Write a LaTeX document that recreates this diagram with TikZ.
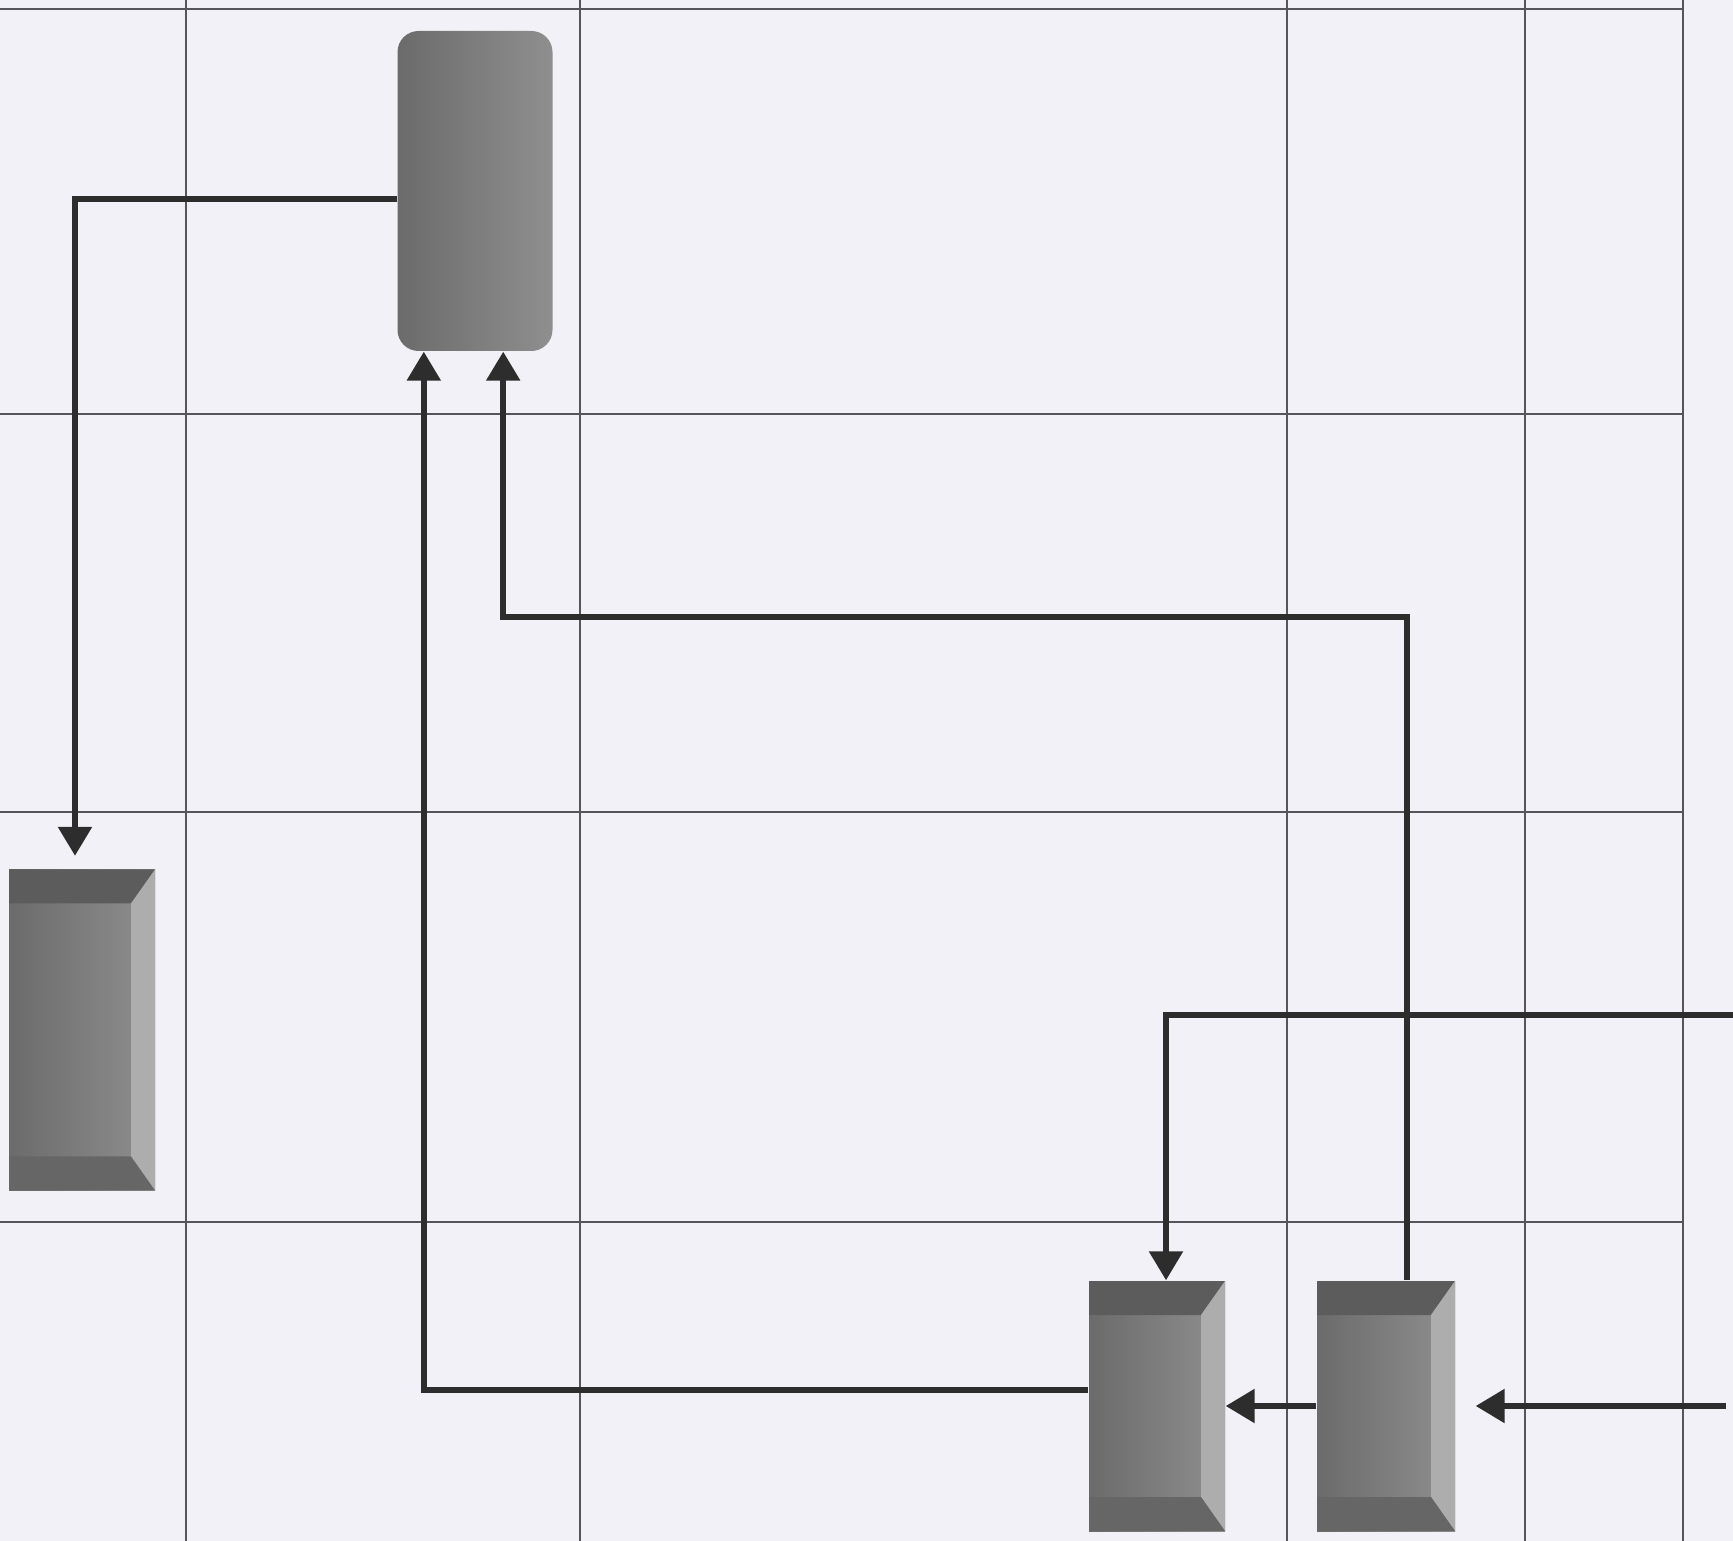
\documentclass[tikz,border=0pt]{standalone}
\usetikzlibrary{arrows.meta,calc}
\definecolor{paper}{RGB}{241,241,247}
\definecolor{ink}{RGB}{45,45,45}
\definecolor{rule}{RGB}{85,85,90}
\begin{document}
\begin{tikzpicture}[x=0.1mm, y=-0.1mm,
    flow/.style={draw=ink, line width=1.6pt, -{Triangle[length=2.9mm, width=3.3mm]}},
    gridline/.style={draw=rule, line width=0.6pt},
    block/.style={inner sep=0pt, left color=black!58, right color=black!44},
    bevel/.style={block, path picture={
        \fill[black!64] (path picture bounding box.north west) -- (path picture bounding box.north east)
            -- ([shift={(-24,34)}]path picture bounding box.north east) -- ([shift={(0,34)}]path picture bounding box.north west) -- cycle;
        \fill[black!32] (path picture bounding box.north east) -- (path picture bounding box.south east)
            -- ([shift={(-24,-34)}]path picture bounding box.south east) -- ([shift={(-24,34)}]path picture bounding box.north east) -- cycle;
        \fill[black!60] (path picture bounding box.south east) -- ([shift={(-24,-34)}]path picture bounding box.south east)
            -- ([shift={(0,-34)}]path picture bounding box.south west) -- (path picture bounding box.south west) -- cycle;
    }}]
    \fill[paper] (0,0) rectangle (1733,1541);
    \useasboundingbox (0,0) rectangle (1733,1541);
    % grid
    \foreach \gy in {9,414,812,1222}
        \draw[gridline] (0,\gy) -- (1683,\gy);
    \foreach \gx in {186,580,1287,1525,1683}
        \draw[gridline] (\gx,0) -- (\gx,1541);
    % blocks
    \node[block, rounded corners=6pt, minimum width=15.5mm, minimum height=32mm] (top) at (475,191) {};
    \node[bevel, minimum width=14.6mm, minimum height=32.1mm] (left) at (82,1030) {};
    \node[bevel, minimum width=13.6mm, minimum height=25mm] (b1) at (1157,1406) {};
    \node[bevel, minimum width=13.8mm, minimum height=25mm] (b2) at (1386,1406) {};
    \coordinate (in1) at (1733,1015);
    \coordinate (in2) at (1726,1406);
    % connectors
    \draw[flow, shorten >=1.3mm] ($(top.west)+(0,8)$) -| ($(left.north)+(-7,0)$);
    \draw[flow] ($(b1.west)+(0,-16)$) -| ($(top.south west)+(27,0)$);
    \draw[flow] ($(b2.north)+(21,0)$) -- ++(0,-663) -| ($(top.south east)+(-50,0)$);
    \draw[flow] (in1) -| ($(b1.north)+(9,0)$);
    \draw[flow] (b2.west) -- (b1.east);
    \draw[flow, shorten >=2mm] (in2) -- (b2.east);
\end{tikzpicture}
\end{document}
